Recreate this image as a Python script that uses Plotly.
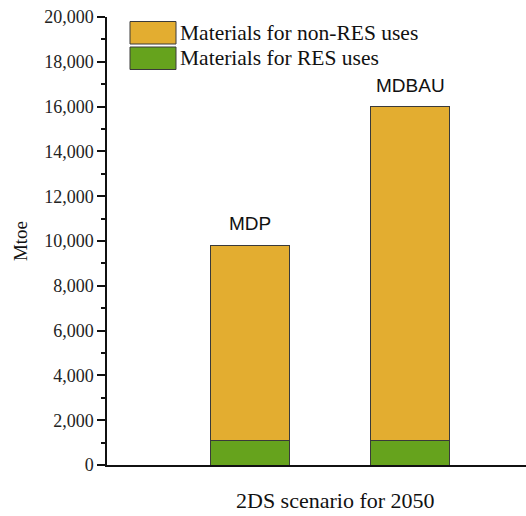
import plotly.graph_objects as go

# Scenario data (Mtoe, 2DS scenario for 2050)
scenarios = ["MDP", "MDBAU"]
res_uses = [1100, 1100]
non_res_uses = [8700, 14900]
series_names = ["Materials for non-RES uses", "Materials for RES uses"]
y_ticks = [0, 2000, 4000, 6000, 8000, 10000, 12000, 14000, 16000, 18000, 20000]

orange = "#E3AD30"
green = "#66A31D"
edge = "#3a3a3a"
serif = "Liberation Serif, Times New Roman, serif"
sans = "Liberation Sans, Arial, sans-serif"

fig = go.Figure()
fig.add_trace(go.Bar(x=scenarios, y=res_uses, name=series_names[1],
                     marker=dict(color=green, line=dict(color=edge, width=1)),
                     width=0.49, showlegend=False))
fig.add_trace(go.Bar(x=scenarios, y=non_res_uses, name=series_names[0],
                     marker=dict(color=orange, line=dict(color=edge, width=1)),
                     width=0.49, showlegend=False))

# Scenario labels above each stacked bar
for s, a, b in zip(scenarios, res_uses, non_res_uses):
    fig.add_annotation(x=s, y=a + b, text=s, showarrow=False, yanchor="bottom",
                       yshift=9, font=dict(family=sans, size=19, color="#111"))

# Legend with large swatches
legend_rows = [(series_names[0], orange), (series_names[1], green)]
for i, (name, col) in enumerate(legend_rows):
    y0 = 1.0 - (4.5 + i * 25.5) / 448
    y1 = y0 - 22.5 / 448
    fig.add_shape(type="rect", xref="paper", yref="paper",
                  x0=(130 - 107) / 419, x1=(176 - 107) / 419, y0=y1, y1=y0,
                  fillcolor=col, line=dict(color=edge, width=1))
    fig.add_annotation(xref="paper", yref="paper", x=(178 - 107) / 419,
                       y=(y0 + y1) / 2, text=name, showarrow=False,
                       xanchor="left", yanchor="middle",
                       font=dict(family=serif, size=21.5, color="#111"))

# x-axis title
fig.add_annotation(xref="paper", yref="paper", x=(335 - 107) / 419, y=-35 / 448,
                   text="2DS scenario for 2050", showarrow=False,
                   xanchor="center", yanchor="middle",
                   font=dict(family=serif, size=22, color="#111"))

fig.update_layout(
    width=526, height=516,
    margin=dict(l=107, r=0, t=17, b=51),
    barmode="stack",
    plot_bgcolor="white", paper_bgcolor="white",
    xaxis=dict(range=[-0.894, 1.725], showticklabels=False, ticks="",
               showline=True, linecolor="#111", linewidth=1.5,
               showgrid=False, zeroline=False),
    yaxis=dict(range=[0, 20000], tickvals=y_ticks, tickformat=",d",
               ticks="outside", ticklen=8, tickwidth=1.5, tickcolor="#111",
               showline=True, linecolor="#111", linewidth=1.5,
               showgrid=False, zeroline=False,
               minor=dict(dtick=1000, ticks="outside", ticklen=4,
                          tickwidth=1.5, tickcolor="#111", showgrid=False),
               tickfont=dict(family=serif, size=18, color="#222"),
               title=dict(text="Mtoe", standoff=12,
                          font=dict(family=serif, size=19, color="#111"))),
)

fig.write_html("out.html")
